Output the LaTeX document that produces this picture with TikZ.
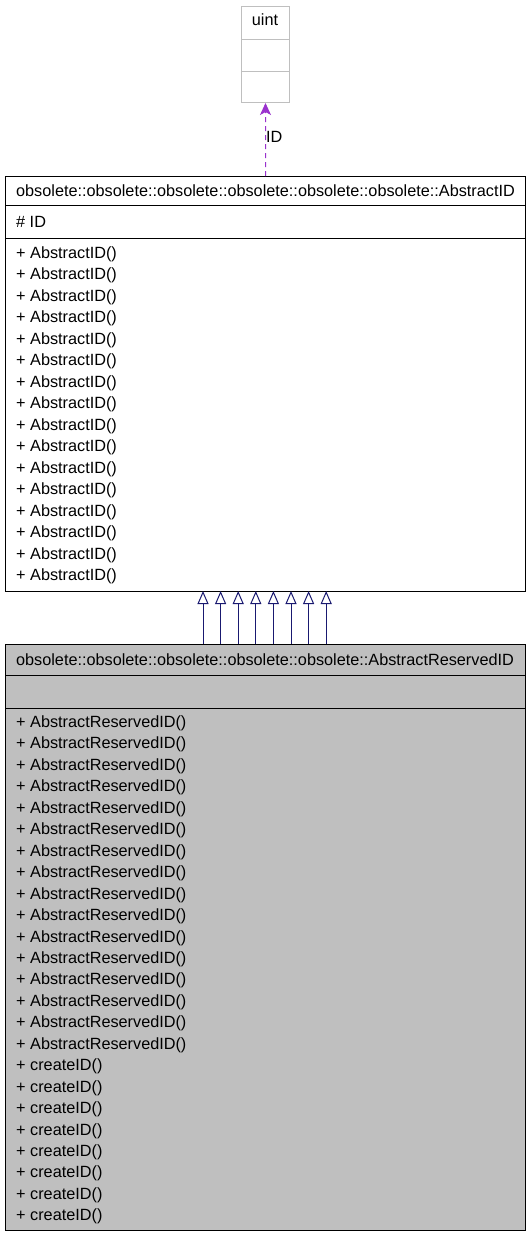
\documentclass[tikz,border=0pt]{standalone}
\usepackage{fontspec}
\setmainfont{Liberation Sans}
\usetikzlibrary{arrows.meta,calc}
\definecolor{edgeblue}{HTML}{191970}
\definecolor{depcol}{HTML}{9A32CD}
\definecolor{graybox}{HTML}{BFBFBF}
\begin{document}
\begin{tikzpicture}[x=1bp,y=-1bp,
  txt/.style={font=\fontsize{16.25bp}{19bp}\selectfont, inner sep=0pt, text=black},
  classbox/.style={draw=black, line width=1bp, rectangle, inner sep=0pt, anchor=north west},
  ghostbox/.style={draw=graybox, line width=1bp, rectangle, inner sep=0pt, anchor=north west},
  divider/.style={draw=black, line width=1bp},
  inh/.style={draw=edgeblue, line width=1bp, -{Triangle[open, length=13bp, width=11bp, fill=white]}},
  dep/.style={draw=depcol, line width=1bp, dash pattern=on 5bp off 4bp, -{Stealth[length=12bp, width=11bp, inset=3bp]}}]
\useasboundingbox (0,0) rectangle (531,1237);

% uint
\node[ghostbox, minimum width=48bp, minimum height=96bp] (uint) at (241,6) {};
\draw[graybox, line width=1bp] (uint.west |- 0,39) -- (uint.east |- 0,39);
\draw[graybox, line width=1bp] (uint.west |- 0,71) -- (uint.east |- 0,71);
\node[txt, anchor=base] (uintT) at (265,25) {uint};

% base class
\node[classbox, minimum width=520bp, minimum height=415bp] (base) at (5,176) {};
\draw[divider] (base.west |- 0,205) -- (base.east |- 0,205);
\draw[divider] (base.west |- 0,238) -- (base.east |- 0,238);
\node[txt, anchor=base] (baseT) at (265.5,196) {obsolete::obsolete::obsolete::obsolete::obsolete::obsolete::AbstractID};
\node[txt, anchor=base west] (baseA) at (16,227) {\# ID};
\foreach \i in {0,...,15}
  \node[txt, anchor=base west] (bm\i) at (16,{258.5+21.47*\i}) {+ AbstractID()};

% derived class
\node[classbox, fill=graybox, minimum width=520bp, minimum height=586bp] (derived) at (5,644) {};
\draw[divider] (derived.west |- 0,675) -- (derived.east |- 0,675);
\draw[divider] (derived.west |- 0,708) -- (derived.east |- 0,708);
\node[txt, anchor=base] (derT) at (265,665) {obsolete::obsolete::obsolete::obsolete::obsolete::AbstractReservedID};
\foreach \i in {0,...,15}
  \node[txt, anchor=base west] (dm\i) at (16,{727.5+21.45*\i}) {+ AbstractReservedID()};
\foreach \i in {16,...,23}
  \node[txt, anchor=base west] (dm\i) at (16,{727.5+21.45*\i}) {+ createID()};

% dependency
\draw[dep] (base.north) -- (uint.south);
\node[txt, anchor=base west] (idl) at (266,142) {ID};

% inheritance
\foreach \i in {0,...,7}{
  \coordinate (t\i) at ({203+17.6*\i},591);
  \draw[inh] (t\i |- derived.north) -- (t\i);
}
\end{tikzpicture}
\end{document}
